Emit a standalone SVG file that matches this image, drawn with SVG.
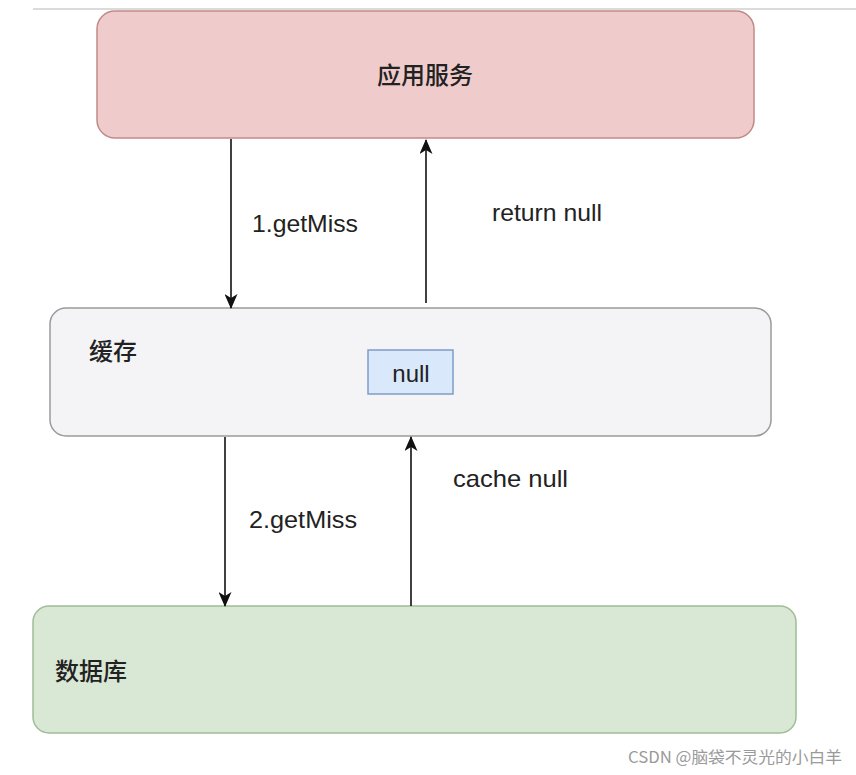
<svg xmlns="http://www.w3.org/2000/svg" width="856" height="775" viewBox="0 0 856 775">
<style>
.lbl{font-family:"Liberation Sans","Noto Sans CJK SC",sans-serif;font-size:24px;fill:#222}
.cn{font-family:"Noto Sans CJK SC","Liberation Sans",sans-serif;font-size:24px;fill:#222;font-weight:500}
.edge{stroke:#111;stroke-width:1.6;fill:none}
.wm{font-family:"Noto Sans CJK SC","Liberation Sans",sans-serif;font-size:16px;fill:#9a9a9a}
</style>
<defs>
<marker id="arr" viewBox="0 0 15 13" refX="14" refY="6.5" markerWidth="15" markerHeight="13" markerUnits="userSpaceOnUse" orient="auto">
<path d="M0,0 L15,6.5 L0,13 L4,6.5 Z" fill="#111"/>
</marker>
</defs>
<rect width="856" height="775" fill="#ffffff"/>
<line x1="33" y1="9" x2="856" y2="9" stroke="#cfcfcf" stroke-width="1.5"/>
<g id="app">
<rect x="97" y="11" width="657" height="127" rx="18" fill="#efcccb" stroke="#c08a88" stroke-width="1.5"/>
<text class="cn" x="425" y="84" text-anchor="middle">应用服务</text>
</g>
<g id="cache">
<rect x="50" y="308" width="721" height="128" rx="16" fill="#f4f4f6" stroke="#9a9a9a" stroke-width="1.5"/>
<text class="cn" x="89" y="360">缓存</text>
</g>
<g id="nullbox">
<rect x="368" y="350" width="85" height="44" fill="#dae8fc" stroke="#7f9cc5" stroke-width="1.5"/>
<text class="lbl" x="411" y="382" text-anchor="middle">null</text>
</g>
<g id="db">
<rect x="33" y="606" width="763" height="127" rx="16" fill="#d9e7d5" stroke="#9fbd97" stroke-width="1.5"/>
<text class="cn" x="55" y="680">数据库</text>
</g>
<g id="connectors">
<line class="edge" x1="231" y1="139" x2="231" y2="308" marker-end="url(#arr)"/>
<line class="edge" x1="426" y1="303" x2="426" y2="140" marker-end="url(#arr)"/>
<line class="edge" x1="225" y1="437" x2="225" y2="606" marker-end="url(#arr)"/>
<line class="edge" x1="411" y1="606" x2="411" y2="437" marker-end="url(#arr)"/>
<text class="lbl" x="252" y="232" textLength="106" lengthAdjust="spacingAndGlyphs">1.getMiss</text>
<text class="lbl" x="492" y="221" textLength="110" lengthAdjust="spacingAndGlyphs">return null</text>
<text class="lbl" x="453" y="487" textLength="115" lengthAdjust="spacingAndGlyphs">cache null</text>
<text class="lbl" x="249" y="528" textLength="108" lengthAdjust="spacingAndGlyphs">2.getMiss</text>
</g>
<text class="wm" x="628" y="763" textLength="214" lengthAdjust="spacingAndGlyphs">CSDN @脑袋不灵光的小白羊</text>
</svg>
